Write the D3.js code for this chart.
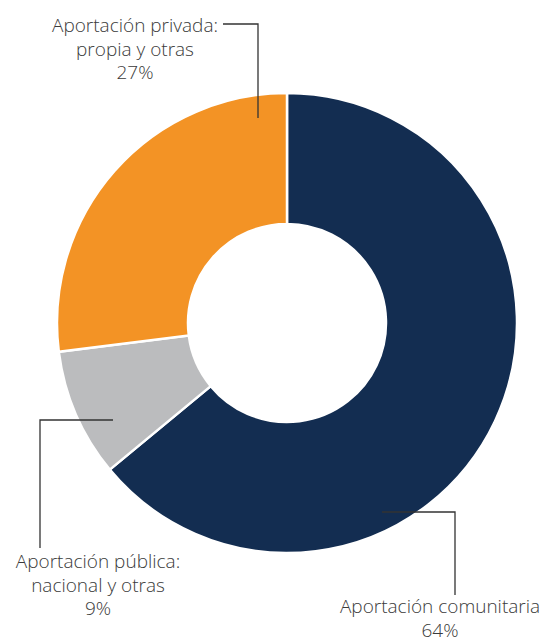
<!DOCTYPE html>
<html><head><meta charset="utf-8">
<script src="https://cdn.jsdelivr.net/npm/d3@7"></script>
<style>html,body{margin:0;padding:0;background:#fff;}</style>
</head><body>
<svg id="c" width="544" height="642"></svg>
<script>
const categories = ["Aportación comunitaria", "Aportación pública: nacional y otras", "Aportación privada: propia y otras"];
const values = [64, 9, 27];
const colors = ["#132d51", "#bbbcbe", "#f39325"];
const labelLines = [
  ["Aportación comunitaria", "64%"],
  ["Aportación pública:", "nacional y otras", "9%"],
  ["Aportación privada:", "propia y otras", "27%"]
];

const svg = d3.select("#c");
const cx = 287, cy = 323, R = 230, r = 99;
const g = svg.append("g").attr("transform", `translate(${cx},${cy})`);
const pie = d3.pie().sort(null).value(d => d)(values);
const arc = d3.arc().innerRadius(r).outerRadius(R);
g.selectAll("path").data(pie).join("path")
  .attr("d", arc).attr("fill", (d,i) => colors[i])
  .attr("stroke", "#fff").attr("stroke-width", 2.5);

// leader lines (absolute page coords)
const leaders = [
  [[382,512],[455,512],[455,595]],
  [[113,420],[40,420],[40,548]],
  [[223,24],[258,24],[258,118]]
];
svg.selectAll("polyline").data(leaders).join("polyline")
  .attr("points", d => d.map(p => p.join(",")).join(" "))
  .attr("fill", "none").attr("stroke", "#333").attr("stroke-width", 1.3);

const labelPos = [[440, 613], [98, 568], [135, 32]];
labelLines.forEach((lines, i) => {
  const t = svg.append("text")
    .attr("text-anchor", "middle")
    .attr("font-family", "'Open Sans', sans-serif")
    .attr("font-weight", 300)
    .attr("font-size", 19)
    .attr("fill", "#3a3a3a");
  lines.forEach((l, j) => {
    t.append("tspan").attr("x", labelPos[i][0]).attr("y", labelPos[i][1] + j*23.5).text(l);
  });
});
</script>
</body></html>
